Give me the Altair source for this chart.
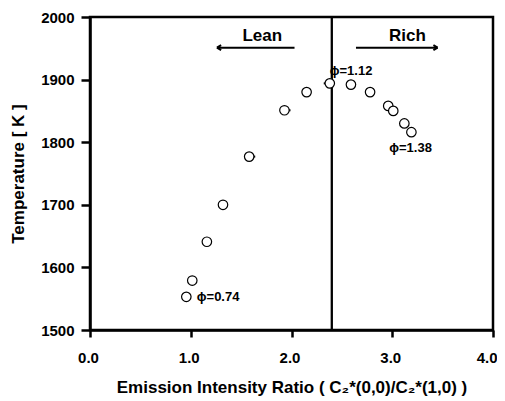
import altair as alt
import pandas as pd

ratio = [0.956, 1.015, 1.16, 1.32, 1.58, 1.93, 2.15, 2.38, 2.59, 2.78, 2.96, 3.01, 3.12, 3.19]
temp = [1553, 1579, 1641, 1700, 1777, 1851, 1880, 1894, 1892, 1880, 1858, 1850, 1830, 1816]
err_lo = [0.0, 0.0, 0.0, 0.0, 0.0, 0.0, 0.0, 0.06, 0.0, 0.0, 0.0, 0.0, 0.0, 0.0]
err_hi = [0.0, 0.0, 0.0, 0.0, 0.06, 0.06, 0.0, 0.0, 0.0, 0.0, 0.0, 0.0, 0.0, 0.0]

labels = ["ϕ=1.12", "ϕ=1.38", "ϕ=0.74"]
label_x = [2.38, 2.97, 1.06]
label_y = [1914, 1790, 1553]

region_text = ["Lean", "Rich"]
region_x = [1.71, 3.15]
region_y = [1969, 1969]
arrow_x1 = [2.03, 2.64]
arrow_x2 = [1.26, 3.45]
arrow_y = [1951, 1951]
arrow_shape = ["M 0 0 L 1 -0.6 M 0 0 L 1 0.6", "M 0 0 L -1 -0.6 M 0 0 L -1 0.6"]

stoich_x = 2.4

df = pd.DataFrame({"x": ratio, "T": temp,
                   "lo": [r - e for r, e in zip(ratio, err_lo)],
                   "hi": [r + e for r, e in zip(ratio, err_hi)]})
lab = pd.DataFrame({"x": label_x, "T": label_y, "t": labels})
reg = pd.DataFrame({"x": region_x, "T": region_y, "t": region_text})
arr = pd.DataFrame({"x1": arrow_x1, "x2": arrow_x2, "T": arrow_y, "shape": arrow_shape})
vline = pd.DataFrame({"x": [stoich_x]})

FONT = "Liberation Sans"

xs = alt.Scale(domain=[0, 4], nice=False, zero=False)
ys = alt.Scale(domain=[1500, 2000], nice=False, zero=False)

xenc = alt.X("x:Q", scale=xs, axis=alt.Axis(
    title="Emission Intensity Ratio ( C₂*(0,0)/C₂*(1,0) )",
    values=[0, 1, 2, 3, 4], format=".1f",
    labelAlign={"condition": {"test": "datum.value >= 4", "value": "right"}, "value": "center"},
    labelOffset={"condition": {"test": "datum.value >= 4", "value": 4}, "value": -2}))
yenc = alt.Y("T:Q", scale=ys, axis=alt.Axis(
    title="Temperature [ K ]", values=[1500, 1600, 1700, 1800, 1900, 2000], format="d"))

errs = alt.Chart(df).mark_rule(color="black", strokeWidth=2).encode(
    x=xenc, x2="hi:Q", y=yenc)
errs2 = alt.Chart(df).mark_rule(color="black", strokeWidth=2).encode(
    x="lo:Q", x2="x:Q", y="T:Q")

rule = alt.Chart(vline).mark_rule(color="black", strokeWidth=2.3).encode(x="x:Q")

pts = alt.Chart(df).mark_point(shape="circle", size=90, filled=False, fill="white",
                               fillOpacity=1, stroke="black", strokeWidth=1.2,
                               opacity=1).encode(x="x:Q", y="T:Q")

txt = alt.Chart(lab).mark_text(align="left", baseline="middle", font=FONT,
                               fontWeight="bold", fontSize=13, color="black").encode(
    x="x:Q", y="T:Q", text="t:N")

rtxt = alt.Chart(reg).mark_text(align="center", baseline="middle", font=FONT,
                                fontWeight="bold", fontSize=17, color="black").encode(
    x="x:Q", y="T:Q", text="t:N")

shaft = alt.Chart(arr).mark_rule(color="black", strokeWidth=2).encode(
    x="x1:Q", x2="x2:Q", y="T:Q")

heads = alt.Chart(arr).mark_point(filled=False, stroke="black", strokeWidth=2,
                                  size=70, opacity=1).encode(
    x="x2:Q", y="T:Q", shape=alt.Shape("shape:N", scale=None, legend=None))

chart = alt.layer(errs, errs2, rule, pts, txt, rtxt, shaft, heads).properties(
    width=403, height=313,
    autosize=alt.AutoSizeParams(type="none"),
    padding={"left": 82, "top": 9, "right": 4, "bottom": 68},
    background="white",
).configure_view(stroke="black", strokeWidth=2.5).configure_axis(
    grid=False, domainColor="black", domainWidth=2.5, tickColor="black",
    tickWidth=2.5, labelFont=FONT, labelFontWeight="bold", labelFlush=False,
    labelFontSize=15, labelColor="black", titleFont=FONT, titleFontWeight="bold",
    titleFontSize=17, titleColor="black",
).configure_axisY(tickSize=9, labelPadding=7, titlePadding=13).configure_axisX(
    tickSize=7, labelPadding=13, titlePadding=14)

chart.save("out.html", embed_options={"renderer": "svg", "actions": False})
